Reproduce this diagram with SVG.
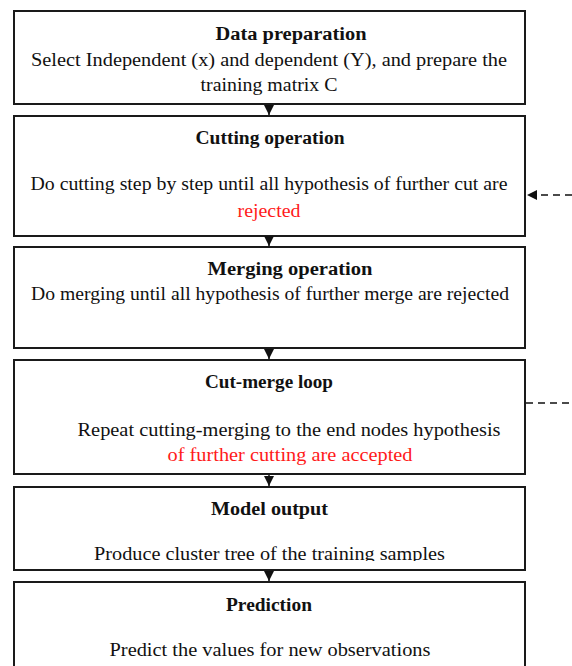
<svg xmlns="http://www.w3.org/2000/svg" width="572" height="666" viewBox="0 0 572 666">
<style>
.box{fill:#fff;stroke:#1a1a1a;stroke-width:2}
.t{font-family:"Liberation Serif","DejaVu Serif",serif;font-size:18px;font-weight:bold;fill:#111;text-anchor:middle}
.b{font-family:"Liberation Serif","DejaVu Serif",serif;font-size:18px;fill:#111;text-anchor:middle}
.r{fill:#ff1a1a}
.con{stroke:#111;stroke-width:1.5;fill:none}
.dash{stroke:#111;stroke-width:1.5;fill:none;stroke-dasharray:7 5}
</style>
<defs>
<marker id="ah" viewBox="0 0 10 10" refX="10" refY="5" markerWidth="10" markerHeight="10" markerUnits="userSpaceOnUse" orient="auto">
<path d="M0,0 L10,5 L0,10 Z" fill="#111"/>
</marker>
<clipPath id="clip5"><rect x="14" y="487" width="511" height="74"/></clipPath>
</defs>
<rect width="572" height="666" fill="#fff"/>
<g id="n1">
<rect class="box" x="14" y="11" width="511" height="93"/>
<text class="t" x="291" y="40" textLength="151" lengthAdjust="spacingAndGlyphs">Data preparation</text>
<text class="b" x="269" y="66" textLength="476" lengthAdjust="spacingAndGlyphs">Select Independent (x) and dependent (Y), and prepare the</text>
<text class="b" x="269" y="91" textLength="137" lengthAdjust="spacingAndGlyphs">training matrix C</text>
</g>
<g id="n2">
<rect class="box" x="14" y="116" width="511" height="120"/>
<text class="t" x="270" y="144" textLength="149" lengthAdjust="spacingAndGlyphs">Cutting operation</text>
<text class="b" x="269" y="190" textLength="477" lengthAdjust="spacingAndGlyphs">Do cutting step by step until all hypothesis of further cut are</text>
<text class="b r" x="269" y="217" textLength="63" lengthAdjust="spacingAndGlyphs">rejected</text>
</g>
<g id="n3">
<rect class="box" x="14" y="247" width="511" height="101"/>
<text class="t" x="290" y="275" textLength="165" lengthAdjust="spacingAndGlyphs">Merging operation</text>
<text class="b" x="270" y="300" textLength="478" lengthAdjust="spacingAndGlyphs">Do merging until all hypothesis of further merge are rejected</text>
</g>
<g id="n4">
<rect class="box" x="14" y="360" width="511" height="114"/>
<text class="t" x="269" y="388" textLength="128" lengthAdjust="spacingAndGlyphs">Cut-merge loop</text>
<text class="b" x="289" y="436" textLength="423" lengthAdjust="spacingAndGlyphs">Repeat cutting-merging to the end nodes hypothesis</text>
<text class="b r" x="290" y="461" textLength="245" lengthAdjust="spacingAndGlyphs">of further cutting are accepted</text>
</g>
<g id="n5">
<rect class="box" x="14" y="487" width="511" height="83"/>
<text class="t" x="269.5" y="515" textLength="117" lengthAdjust="spacingAndGlyphs">Model output</text>
<text class="b" x="269.5" y="560" textLength="351" lengthAdjust="spacingAndGlyphs" clip-path="url(#clip5)">Produce cluster tree of the training samples</text>
</g>
<g id="n6">
<rect class="box" x="14" y="582" width="511" height="90"/>
<text class="t" x="269" y="611" textLength="86" lengthAdjust="spacingAndGlyphs">Prediction</text>
<text class="b" x="270" y="656" textLength="321" lengthAdjust="spacingAndGlyphs">Predict the values for new observations</text>
</g>
<g id="connectors">
<line class="con" x1="269" y1="105" x2="269" y2="115" marker-end="url(#ah)"/>
<line class="con" x1="269" y1="237" x2="269" y2="246" marker-end="url(#ah)"/>
<line class="con" x1="269" y1="349" x2="269" y2="359" marker-end="url(#ah)"/>
<line class="con" x1="269" y1="475" x2="269" y2="486" marker-end="url(#ah)"/>
<line class="con" x1="269" y1="571" x2="269" y2="581" marker-end="url(#ah)"/>
<line class="dash" x1="572" y1="195" x2="527" y2="195" marker-end="url(#ah)"/>
<line class="dash" x1="526" y1="403" x2="572" y2="403"/>
</g>
</svg>
